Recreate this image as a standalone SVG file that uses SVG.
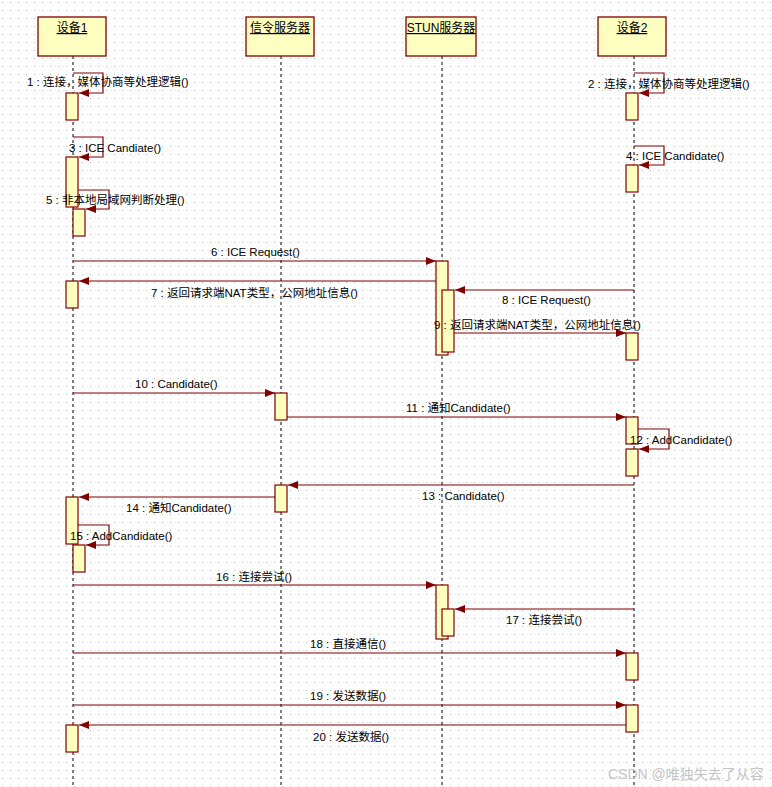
<svg xmlns="http://www.w3.org/2000/svg" width="772" height="787" viewBox="0 0 772 787">
<defs>
<pattern id="grid" x="0" y="0" width="8" height="8" patternUnits="userSpaceOnUse">
<rect x="2" y="2" width="1" height="1" fill="#b8b8b8"/>
</pattern>
<marker id="ah" viewBox="0 0 10 8" refX="10" refY="4" markerWidth="10" markerHeight="8" markerUnits="userSpaceOnUse" orient="auto">
<path d="M0,0 L10,4 L0,8 z" fill="#800000"/>
</marker>
<style>
.box{fill:#ffffc0;stroke:#800000;stroke-width:1.3}
.act{fill:#ffffc0;stroke:#800000;stroke-width:1.2}
.life{stroke:#000;stroke-width:1;stroke-dasharray:3,3;fill:none}
.msg{stroke:#800000;stroke-width:1.2;fill:none;marker-end:url(#ah)}
.hd{font-family:"Liberation Sans","Noto Sans CJK SC",sans-serif;font-size:12px;fill:#000;text-anchor:middle;text-decoration:underline}
.lbl{font-family:"Liberation Sans","Noto Sans CJK SC",sans-serif;font-size:11.5px;fill:#000}
.wm{font-family:"Liberation Sans","Noto Sans CJK SC",sans-serif;font-size:14px;fill:#c4c4c4}
</style>
</defs>
<rect width="772" height="787" fill="#fff"/>
<rect width="772" height="787" fill="url(#grid)"/>

<g id="device1">
<line class="life" x1="73" y1="56" x2="73" y2="787"/>
<rect class="box" x="38" y="17" width="68" height="39"/>
<text class="hd" x="72" y="32">设备1</text>
<rect class="act" x="66" y="93" width="12" height="27"/>
<rect class="act" x="66" y="157" width="12" height="50"/>
<rect class="act" x="73" y="209" width="12" height="27"/>
<rect class="act" x="66" y="281" width="12" height="27"/>
<rect class="act" x="66" y="497" width="12" height="47"/>
<rect class="act" x="73" y="545" width="12" height="27"/>
<rect class="act" x="66" y="725" width="12" height="27"/>
</g>

<g id="signal-server">
<line class="life" x1="281" y1="56" x2="281" y2="787"/>
<rect class="box" x="246" y="17" width="68" height="39"/>
<text class="hd" x="280" y="32">信令服务器</text>
<rect class="act" x="275" y="393" width="12" height="27"/>
<rect class="act" x="275" y="485" width="12" height="27"/>
</g>

<g id="stun-server">
<line class="life" x1="442" y1="56" x2="442" y2="787"/>
<rect class="box" x="406" y="17" width="70" height="39"/>
<text class="hd" x="441" y="32">STUN服务器</text>
<rect class="act" x="436" y="261" width="12" height="94"/>
<rect class="act" x="442" y="290" width="12" height="62"/>
<rect class="act" x="436" y="585" width="12" height="54"/>
<rect class="act" x="442" y="609" width="12" height="27"/>
</g>

<g id="device2">
<line class="life" x1="634" y1="56" x2="634" y2="787"/>
<rect class="box" x="598" y="17" width="68" height="39"/>
<text class="hd" x="632" y="32">设备2</text>
<rect class="act" x="626" y="93" width="12" height="27"/>
<rect class="act" x="626" y="165" width="12" height="27"/>
<rect class="act" x="626" y="333" width="12" height="27"/>
<rect class="act" x="626" y="417" width="12" height="27"/>
<rect class="act" x="626" y="449" width="12" height="27"/>
<rect class="act" x="626" y="653" width="12" height="27"/>
<rect class="act" x="626" y="705" width="12" height="27"/>
</g>

<g id="connectors">
<polyline class="msg" points="73,73 103,73 103,93 79,93"/>
<polyline class="msg" points="634,73 664,73 664,93 639,93"/>
<polyline class="msg" points="73,137 103,137 103,157 79,157"/>
<polyline class="msg" points="634,146 664,146 664,165 639,165"/>
<polyline class="msg" points="78,190 109,190 109,209 86,209"/>
<line class="msg" x1="73" y1="261" x2="436" y2="261"/>
<line class="msg" x1="436" y1="281" x2="79" y2="281"/>
<line class="msg" x1="634" y1="290" x2="455" y2="290"/>
<line class="msg" x1="454" y1="333" x2="626" y2="333"/>
<line class="msg" x1="73" y1="393" x2="275" y2="393"/>
<line class="msg" x1="287" y1="417" x2="626" y2="417"/>
<polyline class="msg" points="638,429 669,429 669,449 639,449"/>
<line class="msg" x1="634" y1="485" x2="288" y2="485"/>
<line class="msg" x1="275" y1="497" x2="79" y2="497"/>
<polyline class="msg" points="78,525 109,525 109,545 86,545"/>
<line class="msg" x1="73" y1="585" x2="436" y2="585"/>
<line class="msg" x1="634" y1="609" x2="455" y2="609"/>
<line class="msg" x1="73" y1="653" x2="626" y2="653"/>
<line class="msg" x1="73" y1="705" x2="626" y2="705"/>
<line class="msg" x1="626" y1="725" x2="79" y2="725"/>

<text class="lbl" x="27" y="86">1 : 连接，媒体协商等处理逻辑()</text>
<text class="lbl" x="588" y="88">2 : 连接，媒体协商等处理逻辑()</text>
<text class="lbl" x="69" y="152">3 : ICE Candiate()</text>
<text class="lbl" x="626" y="160">4 : ICE Candidate()</text>
<text class="lbl" x="46" y="204">5 : 非本地局域网判断处理()</text>
<text class="lbl" x="211" y="256">6 : ICE Request()</text>
<text class="lbl" x="151" y="297">7 : 返回请求端NAT类型，公网地址信息()</text>
<text class="lbl" x="502" y="304">8 : ICE Request()</text>
<text class="lbl" x="434" y="329">9 : 返回请求端NAT类型，公网地址信息()</text>
<text class="lbl" x="135" y="388">10 : Candidate()</text>
<text class="lbl" x="406" y="412">11 : 通知Candidate()</text>
<text class="lbl" x="630" y="444">12 : AddCandidate()</text>
<text class="lbl" x="422" y="500">13 : Candidate()</text>
<text class="lbl" x="126" y="512">14 : 通知Candidate()</text>
<text class="lbl" x="70" y="540">15 : AddCandidate()</text>
<text class="lbl" x="216" y="581">16 : 连接尝试()</text>
<text class="lbl" x="506" y="624">17 : 连接尝试()</text>
<text class="lbl" x="310" y="648">18 : 直接通信()</text>
<text class="lbl" x="310" y="700">19 : 发送数据()</text>
<text class="lbl" x="313" y="741">20 : 发送数据()</text>
</g>

<text class="wm" x="608" y="779">CSDN @唯独失去了从容</text>
</svg>
